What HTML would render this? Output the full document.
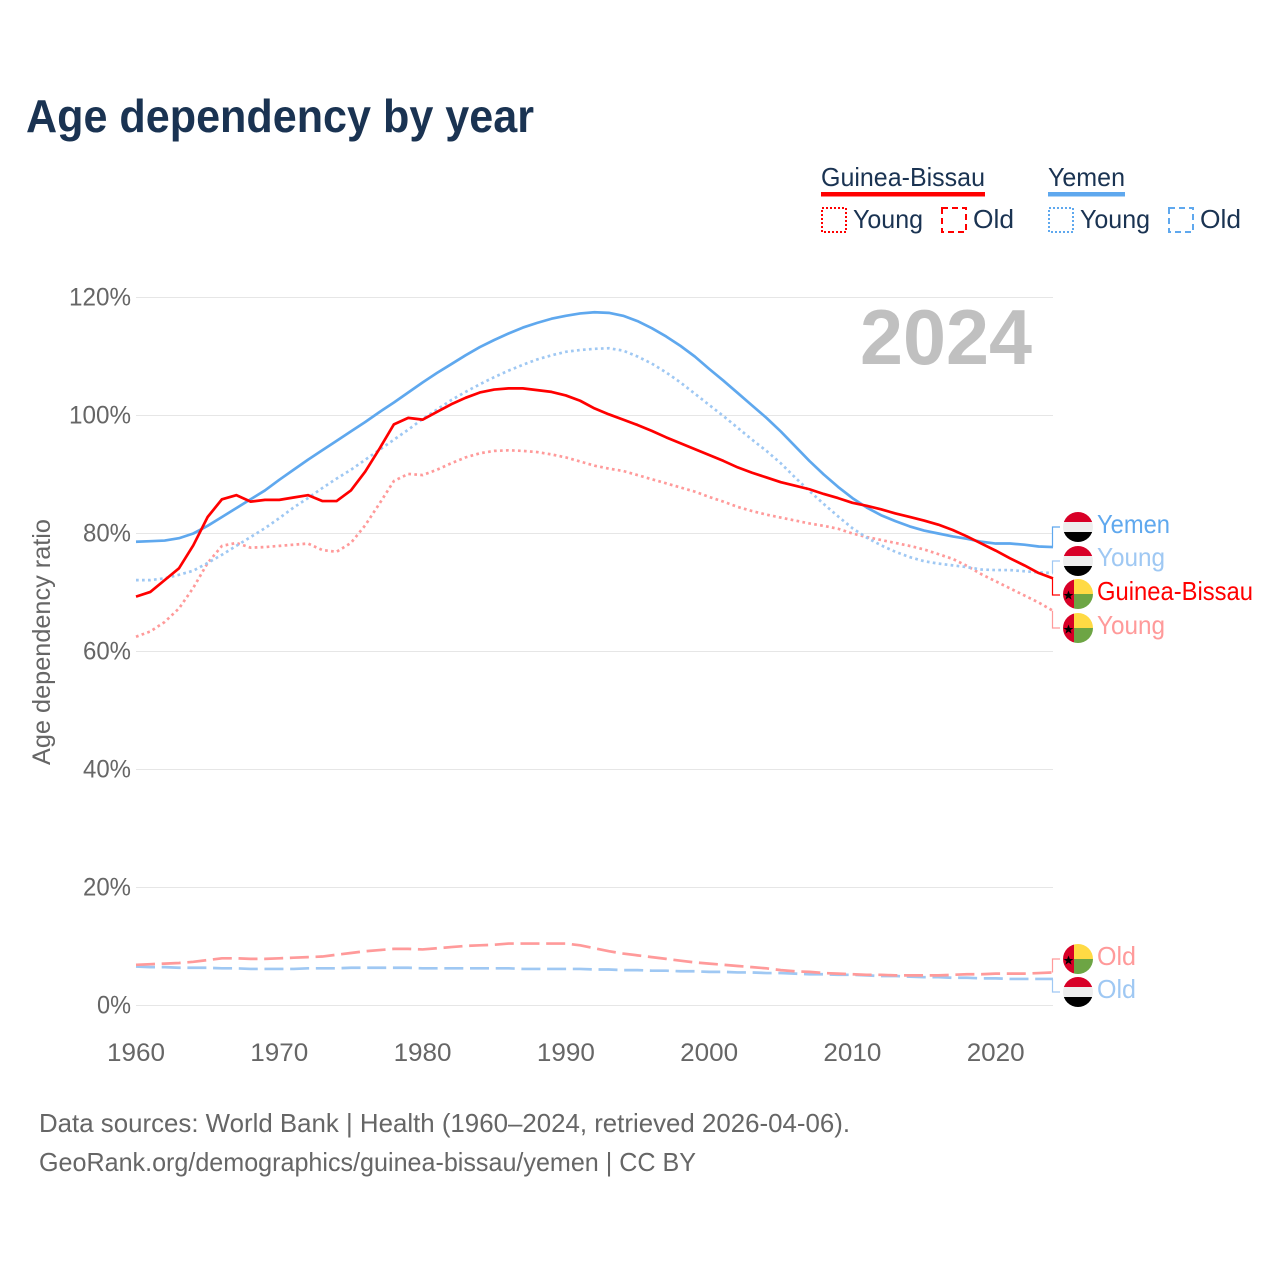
<!DOCTYPE html>
<html lang="en">
<head>
<meta charset="utf-8">
<title>Age dependency by year</title>
<style>
html,body{margin:0;padding:0;background:#fff;}
svg{display:block;font-family:"Liberation Sans",Arial,sans-serif;}
</style>
</head>
<body>
<svg id="chart" xmlns="http://www.w3.org/2000/svg" width="1280" height="1280" viewBox="0 0 1280 1280">
  <defs>
    <clipPath id="flag-circle"><circle cx="0" cy="0" r="15"/></clipPath>
    <g id="flag-ye">
      <g clip-path="url(#flag-circle)">
        <rect x="-15" y="-15" width="30" height="10" fill="#d80027"/>
        <rect x="-15" y="-5" width="30" height="10.5" fill="#eeeeee"/>
        <rect x="-15" y="5" width="30" height="10" fill="#000000"/>
      </g>
    </g>
    <g id="flag-gw">
      <g clip-path="url(#flag-circle)">
        <rect x="-15" y="-15" width="11" height="30" fill="#d80027"/>
        <rect x="-4" y="-15" width="19" height="15" fill="#ffda44"/>
        <rect x="-4" y="0" width="19" height="15" fill="#6da544"/>
        <polygon points="-9.5,-3.5 -8.2,0 -4.6,0 -7.5,2.1 -6.4,5.6 -9.5,3.5 -12.6,5.6 -11.5,2.1 -14.4,0 -10.8,0" fill="#000"/>
      </g>
    </g>
  </defs>

  <text x="26" y="132" font-size="46" font-weight="700" fill="#1a3352" textLength="508" lengthAdjust="spacingAndGlyphs">Age dependency by year</text>

  <g font-size="26" fill="#1a3352">
    <text x="821" y="186" textLength="164" lengthAdjust="spacingAndGlyphs">Guinea-Bissau</text>
    <rect x="821" y="192" width="164" height="4.5" fill="#ff0000"/>
    <text x="1048" y="186" textLength="77" lengthAdjust="spacingAndGlyphs">Yemen</text>
    <rect x="1048" y="192" width="77" height="4.5" fill="#5fa8ee"/>

    <rect x="822" y="208" width="24" height="24" fill="none" stroke="#ff0000" stroke-width="2" stroke-dasharray="2 2"/>
    <text x="853" y="228" textLength="70" lengthAdjust="spacingAndGlyphs">Young</text>
    <rect x="942" y="208" width="24" height="24" fill="none" stroke="#ff0000" stroke-width="2" stroke-dasharray="6 4"/>
    <text x="973" y="228" textLength="41" lengthAdjust="spacingAndGlyphs">Old</text>

    <rect x="1049" y="208" width="24" height="24" fill="none" stroke="#5fa8ee" stroke-width="2" stroke-dasharray="2 2"/>
    <text x="1080" y="228" textLength="70" lengthAdjust="spacingAndGlyphs">Young</text>
    <rect x="1169" y="208" width="24" height="24" fill="none" stroke="#5fa8ee" stroke-width="2" stroke-dasharray="6 4"/>
    <text x="1200" y="228" textLength="41" lengthAdjust="spacingAndGlyphs">Old</text>
  </g>

  <g id="grid"></g>
  <g id="y-ticks" font-size="25" fill="#666666"></g>
  <g id="x-ticks" font-size="25" fill="#666666"></g>

  <text transform="translate(50,642) rotate(-90)" text-anchor="middle" font-size="25" fill="#666666" textLength="246" lengthAdjust="spacingAndGlyphs">Age dependency ratio</text>

  <text x="860" y="364" font-size="78" font-weight="700" fill="#c0c0c0" textLength="172" lengthAdjust="spacingAndGlyphs">2024</text>

  <g id="series"></g>
  <g id="connectors"></g>

  <g font-size="26">
    <use href="#flag-ye" x="1078" y="527"/>
    <text x="1097" y="533" fill="#5fa8ee" textLength="73" lengthAdjust="spacingAndGlyphs">Yemen</text>
    <use href="#flag-ye" x="1078" y="561"/>
    <text x="1097" y="566" fill="#9fc8f3" textLength="68" lengthAdjust="spacingAndGlyphs">Young</text>
    <use href="#flag-gw" x="1078" y="594"/>
    <text x="1097" y="600" fill="#ff0000" textLength="156" lengthAdjust="spacingAndGlyphs">Guinea-Bissau</text>
    <use href="#flag-gw" x="1078" y="628"/>
    <text x="1097" y="634" fill="#ff9a9a" textLength="68" lengthAdjust="spacingAndGlyphs">Young</text>
    <use href="#flag-gw" x="1078" y="959"/>
    <text x="1097" y="965" fill="#ff9a9a" textLength="39" lengthAdjust="spacingAndGlyphs">Old</text>
    <use href="#flag-ye" x="1078" y="992"/>
    <text x="1097" y="998" fill="#9fc8f3" textLength="39" lengthAdjust="spacingAndGlyphs">Old</text>
  </g>

  <g font-size="26" fill="#666666">
    <text x="39" y="1132" textLength="811" lengthAdjust="spacingAndGlyphs">Data sources: World Bank | Health (1960–2024, retrieved 2026-04-06).</text>
    <text x="39" y="1171" textLength="657" lengthAdjust="spacingAndGlyphs">GeoRank.org/demographics/guinea-bissau/yemen | CC BY</text>
  </g>
</svg>

<script>
const startYear = 1960;
const yTickValues = [0, 20, 40, 60, 80, 100, 120];
const xTickValues = [1960, 1970, 1980, 1990, 2000, 2010, 2020];

const guineaBissauOld = [6.9,7.0,7.1,7.2,7.4,7.7,8.0,8.0,7.9,7.9,8.0,8.1,8.2,8.3,8.6,8.9,9.2,9.4,9.6,9.6,9.5,9.7,9.9,10.1,10.2,10.3,10.5,10.5,10.5,10.5,10.5,10.2,9.7,9.2,8.8,8.5,8.2,7.9,7.6,7.3,7.1,6.9,6.7,6.5,6.3,6.0,5.8,5.7,5.5,5.4,5.3,5.2,5.2,5.1,5.1,5.1,5.1,5.2,5.3,5.3,5.4,5.4,5.4,5.5,5.6];
const yemenOld = [6.6,6.5,6.5,6.4,6.4,6.4,6.3,6.3,6.2,6.2,6.2,6.2,6.3,6.3,6.3,6.4,6.4,6.4,6.4,6.4,6.3,6.3,6.3,6.3,6.3,6.3,6.3,6.2,6.2,6.2,6.2,6.2,6.1,6.1,6.0,6.0,5.9,5.9,5.8,5.8,5.7,5.7,5.6,5.6,5.5,5.5,5.4,5.3,5.3,5.2,5.2,5.1,5.0,5.0,4.9,4.8,4.8,4.7,4.7,4.6,4.6,4.5,4.5,4.5,4.5];
const guineaBissauYoung = [62.5,63.4,65.0,67.3,70.8,75.0,77.9,78.4,77.6,77.7,77.9,78.1,78.3,77.2,76.9,78.4,81.4,85.1,88.9,90.1,89.9,90.8,91.9,92.9,93.6,94.0,94.1,94.0,93.8,93.4,92.9,92.2,91.5,91.0,90.6,89.9,89.2,88.5,87.8,87.1,86.2,85.4,84.5,83.8,83.2,82.7,82.2,81.7,81.3,80.8,80.0,79.4,78.9,78.4,77.9,77.3,76.5,75.7,74.5,73.1,71.9,70.7,69.5,68.3,66.9];
const yemenYoung = [72.1,72.1,72.4,73.0,73.7,75.0,76.4,77.9,79.4,80.9,82.6,84.4,86.0,87.7,89.3,90.8,92.5,94.2,95.9,97.6,99.4,101.0,102.6,104.0,105.3,106.5,107.6,108.6,109.5,110.2,110.8,111.1,111.3,111.4,111.0,110.0,108.8,107.3,105.6,103.7,101.8,99.9,97.9,95.9,94.0,91.9,89.5,87.2,85.0,82.9,80.9,79.3,78.0,76.9,76.0,75.3,74.9,74.6,74.3,73.9,73.8,73.8,73.6,73.4,73.3];
const guineaBissauTotal = [69.3,70.1,72.1,74.1,78.0,82.8,85.8,86.5,85.4,85.7,85.7,86.1,86.5,85.5,85.5,87.3,90.5,94.4,98.5,99.6,99.3,100.6,101.9,103.0,103.9,104.4,104.6,104.6,104.3,104.0,103.4,102.5,101.2,100.2,99.3,98.4,97.4,96.3,95.3,94.3,93.3,92.3,91.2,90.3,89.5,88.7,88.1,87.5,86.7,86.0,85.2,84.7,84.1,83.4,82.8,82.2,81.5,80.6,79.5,78.3,77.1,75.8,74.6,73.3,72.4];
const yemenTotal = [78.6,78.7,78.8,79.2,80.0,81.3,82.8,84.3,85.8,87.3,89.1,90.8,92.5,94.1,95.7,97.3,98.9,100.6,102.2,103.9,105.6,107.2,108.7,110.2,111.6,112.8,113.9,114.9,115.7,116.4,116.9,117.3,117.5,117.4,116.9,116.0,114.8,113.4,111.8,110.0,107.9,105.9,103.8,101.7,99.6,97.3,94.8,92.3,90.0,87.9,86.0,84.4,83.1,82.1,81.2,80.5,80.0,79.5,79.1,78.6,78.3,78.3,78.1,77.8,77.7];

const SVG_NS = 'http://www.w3.org/2000/svg';
const xScale = function (year) { return 136 + (year - 1960) * (917 / 64); };
const yScale = function (pct) { return 1005.5 - pct * 5.9; };

function make(tag, parent) {
  const el = document.createElementNS(SVG_NS, tag);
  parent.appendChild(el);
  return el;
}

const grid = document.getElementById('grid');
const yTicks = document.getElementById('y-ticks');
yTickValues.forEach(function (v) {
  const line = make('line', grid);
  
  
  line.setAttribute('x1', 136);
  line.setAttribute('x2', 1053);
  line.setAttribute('y1', yScale(v));
  line.setAttribute('y2', yScale(v));
  line.setAttribute('stroke', '#e6e6e6');
  line.setAttribute('stroke-width', 1);

  const label = v + '%';
  const t = make('text', yTicks);
  
  
  t.setAttribute('x', 131 - (14 * label.length + 6));
  t.setAttribute('y', yScale(v) + 8);
  t.setAttribute('textLength', 14 * label.length + 6);
  t.setAttribute('lengthAdjust', 'spacingAndGlyphs');
  t.textContent = label;
});

const xTicks = document.getElementById('x-ticks');
xTickValues.forEach(function (year) {
  const t = make('text', xTicks);
  
  
  t.setAttribute('x', xScale(year) - 29);
  t.setAttribute('y', 1061);
  t.setAttribute('textLength', 58);
  t.setAttribute('lengthAdjust', 'spacingAndGlyphs');
  t.textContent = String(year);
});

const seriesGroup = document.getElementById('series');
function drawLine(values, name, color, dash) {
  const d = values.map(function (v, i) {
    return (i ? 'L' : 'M') + xScale(startYear + i).toFixed(2) + ' ' + yScale(v).toFixed(2);
  }).join(' ');
  const p = make('path', seriesGroup);
  
  
  p.setAttribute('d', d);
  p.setAttribute('fill', 'none');
  p.setAttribute('stroke', color);
  p.setAttribute('stroke-width', 2.7);
  p.setAttribute('stroke-linejoin', 'round');
  if (dash) p.setAttribute('stroke-dasharray', dash);
}
drawLine(yemenOld, 'line-yemen-old', '#9fc8f3', '19 6.7');
drawLine(guineaBissauOld, 'line-guinea-bissau-old', '#ff9a9a', '19 6.7');
drawLine(guineaBissauYoung, 'line-guinea-bissau-young', '#ff9a9a', '2.7 3.3');
drawLine(yemenYoung, 'line-yemen-young', '#9fc8f3', '2.7 3.3');
drawLine(yemenTotal, 'line-yemen-total', '#5fa8ee', '');
drawLine(guineaBissauTotal, 'line-guinea-bissau-total', '#ff0000', '');

const connectorGroup = document.getElementById('connectors');
function drawConnector(values, labelY, name, color) {
  const endY = yScale(values[values.length - 1]);
  const p = make('path', connectorGroup);
  
  
  p.setAttribute('d', 'M1052.5 ' + endY.toFixed(2) + ' V' + labelY + ' H1060');
  p.setAttribute('fill', 'none');
  p.setAttribute('stroke', color);
  p.setAttribute('stroke-width', 1.2);
}
drawConnector(yemenTotal, 527, 'connector-yemen-total', '#5fa8ee');
drawConnector(yemenYoung, 561, 'connector-yemen-young', '#9fc8f3');
drawConnector(guineaBissauTotal, 595, 'connector-guinea-bissau-total', '#ff0000');
drawConnector(guineaBissauYoung, 628, 'connector-guinea-bissau-young', '#ff9a9a');
drawConnector(guineaBissauOld, 959, 'connector-guinea-bissau-old', '#ff9a9a');
drawConnector(yemenOld, 992, 'connector-yemen-old', '#9fc8f3');
</script>
</body>
</html>
